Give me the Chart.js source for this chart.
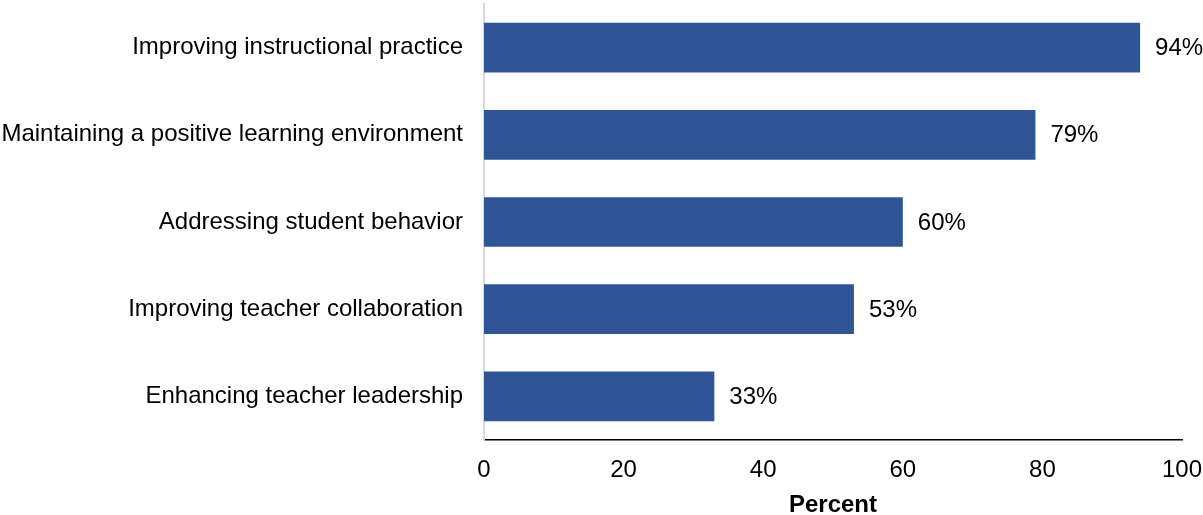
<!DOCTYPE html>
<html>
<head>
<meta charset="utf-8">
<script src="https://cdn.jsdelivr.net/npm/chart.js@4"></script>
<style>
  html, body { margin: 0; padding: 0; background: #fff; }
  #wrap { width: 1203px; height: 515px; }
</style>
</head>
<body>
<div id="wrap"><canvas id="focusChart" width="1203" height="515"></canvas></div>
<script>
const categories = [
  'Improving instructional practice',
  'Maintaining a positive learning environment',
  'Addressing student behavior',
  'Improving teacher collaboration',
  'Enhancing teacher leadership'
];
const percents = [94, 79, 60, 53, 33];
const xTicks = [0, 20, 40, 60, 80, 100];

const FONT = '"Liberation Sans", Arial, sans-serif';

// writes "NN%" just past the end of each bar
const barLabels = {
  id: 'barLabels',
  afterDatasetsDraw(chart) {
    const ctx = chart.ctx;
    const meta = chart.getDatasetMeta(0);
    ctx.save();
    ctx.font = '24px ' + FONT;
    ctx.fillStyle = '#000';
    ctx.textAlign = 'left';
    ctx.textBaseline = 'middle';
    meta.data.forEach((bar, i) => {
      ctx.fillText(percents[i] + '%', bar.x + 15, bar.y + 1);
    });
    ctx.restore();
  }
};

new Chart(document.getElementById('focusChart').getContext('2d'), {
  type: 'bar',
  data: {
    labels: categories,
    datasets: [{
      data: percents,
      backgroundColor: '#2F5597',
      barPercentage: 0.57,
      categoryPercentage: 1
    }]
  },
  options: {
    indexAxis: 'y',
    responsive: false,
    animation: false,
    layout: { padding: { top: 4, right: 21, left: 0, bottom: 0 } },
    plugins: {
      legend: { display: false },
      tooltip: { enabled: false }
    },
    scales: {
      x: {
        min: 0,
        max: 100,
        afterBuildTicks(scale) {
          scale.ticks = xTicks.map(v => ({ value: v }));
        },
        afterFit(scale) {
          scale.height = 75;
          scale.paddingLeft = 0;
          scale.paddingRight = 0;
        },
        grid: { display: false, drawTicks: false },
        border: { display: true, color: '#000', width: 1.5 },
        ticks: {
          color: '#000',
          font: { family: FONT, size: 24 },
          padding: 16
        },
        title: {
          display: true,
          text: 'Percent',
          color: '#000',
          font: { family: FONT, size: 24, weight: 'bold', lineHeight: 1 },
          padding: { top: 0, bottom: -2 }
        }
      },
      y: {
        afterFit(scale) {
          scale.width = 484;
          scale.paddingTop = 0;
          scale.paddingBottom = 0;
        },
        grid: { display: false, drawTicks: false },
        border: { display: true, color: '#d9d9d9', width: 2 },
        ticks: {
          color: '#000',
          font: { family: FONT, size: 24 },
          padding: 21
        }
      }
    }
  },
  plugins: [barLabels]
});
</script>
</body>
</html>
